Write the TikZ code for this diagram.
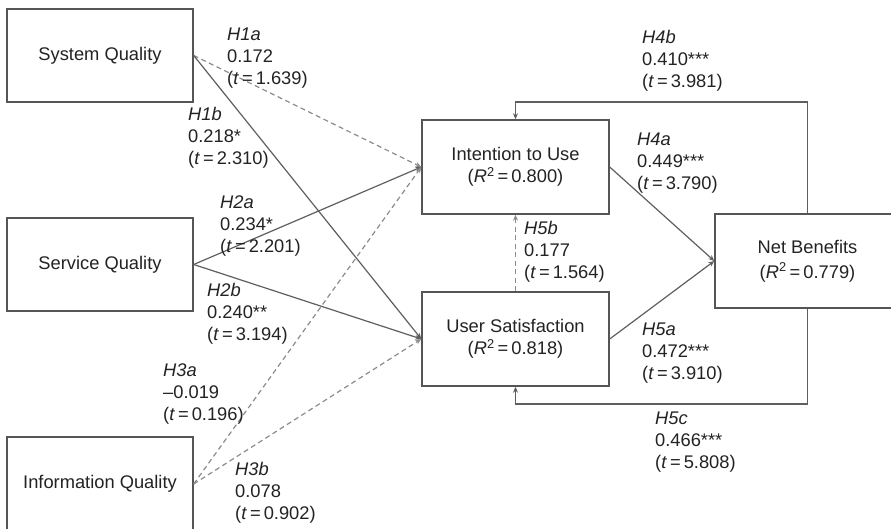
\documentclass[tikz,border=0pt]{standalone}
\usepackage{fontspec}
\setmainfont{Liberation Sans}
\usetikzlibrary{arrows.meta}
\definecolor{boxgray}{RGB}{85,85,85}
\definecolor{solidgray}{RGB}{95,95,95}
\definecolor{dashgray}{RGB}{140,140,140}
\definecolor{txt}{RGB}{35,35,35}
\tikzset{
  mybox/.style={draw=boxgray, line width=1.4pt, rectangle, minimum width=186pt, minimum height=93pt, align=center, text=txt, inner sep=0pt, font=\fontsize{18.3}{22.5}\selectfont},
  lab/.style={align=left, inner sep=0pt, anchor=west, text=txt, font=\fontsize{18.3}{21.8}\selectfont},
  solidarrow/.style={draw=solidgray, line width=1.2pt, -{Stealth[length=6pt,width=5pt]}},
  dasharrow/.style={draw=dashgray, line width=1.2pt, dash pattern=on 5pt off 3.5pt, -{Stealth[length=6pt,width=5pt]}},
}
\newcommand{\tv}[1]{(\textit{t}\,=\,#1)}
\newcommand{\rv}[1]{(\textit{R}\textsuperscript{2}\,=\,#1)}
\begin{document}
\begin{tikzpicture}[x=1pt,y=-1pt]
\clip (0,0) rectangle (891,529);
\fill[white] (0,0) rectangle (891,529);

% boxes
\node[mybox] (sys) at (100,55.5) {System Quality};
\node[mybox] (serv) at (100,264.5) {Service Quality};
\node[mybox, minimum height=94pt] (info) at (100,484) {Information Quality};
\node[mybox, minimum width=187pt, minimum height=94pt] (int) at (515.5,167) {Intention to Use\\\rv{0.800}};
\node[mybox, minimum width=187pt, minimum height=94pt] (us) at (515.5,339) {User Satisfaction\\\rv{0.818}};
\node[mybox, minimum width=185pt, minimum height=94pt, font=\fontsize{18.3}{25}\selectfont] (net) at (807.5,261) {Net Benefits\\\rv{0.779}};

\coordinate (top) at (0,102);
\coordinate (bot) at (0,404);

% connectors
\draw[dasharrow] (sys.east) -- (int.west);
\draw[solidarrow] (sys.east) -- (us.west);
\draw[solidarrow] (serv.east) -- (int.west);
\draw[solidarrow] (serv.east) -- (us.west);
\draw[dasharrow] (info.east) -- (int.west);
\draw[dasharrow] (info.east) -- (us.west);
\draw[solidarrow] (int.east) -- (net.west);
\draw[solidarrow] (us.east) -- (net.west);
\draw[dasharrow] (us.north) -- (int.south);
\draw[solidarrow] (net.north) -- (net.north |- top) -| (int.north);
\draw[solidarrow] (net.south) -- (net.south |- bot) -| (us.south);

% labels
\node[lab] (l1a) at (227,58) {\textit{H1a}\\0.172\\\tv{1.639}};
\node[lab] (l1b) at (188,138) {\textit{H1b}\\0.218*\\\tv{2.310}};
\node[lab] (l2a) at (220,226) {\textit{H2a}\\0.234*\\\tv{2.201}};
\node[lab] (l2b) at (207,314) {\textit{H2b}\\0.240**\\\tv{3.194}};
\node[lab] (l3a) at (163,394) {\textit{H3a}\\--0.019\\\tv{0.196}};
\node[lab] (l3b) at (235,493) {\textit{H3b}\\0.078\\\tv{0.902}};
\node[lab] (l4b) at (642,61) {\textit{H4b}\\0.410***\\\tv{3.981}};
\node[lab] (l4a) at (637,163) {\textit{H4a}\\0.449***\\\tv{3.790}};
\node[lab] (l5b) at (524,252) {\textit{H5b}\\0.177\\\tv{1.564}};
\node[lab] (l5a) at (642,353) {\textit{H5a}\\0.472***\\\tv{3.910}};
\node[lab] (l5c) at (655,442) {\textit{H5c}\\0.466***\\\tv{5.808}};
\end{tikzpicture}
\end{document}
